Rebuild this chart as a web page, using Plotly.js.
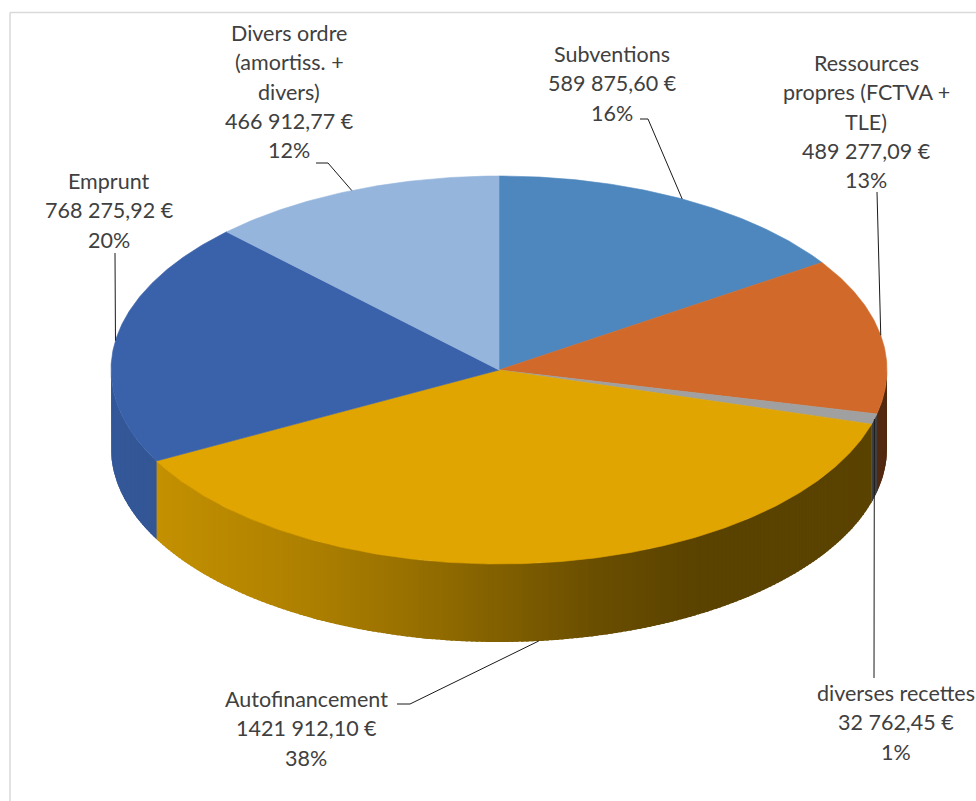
<!DOCTYPE html>
<html><head><meta charset="utf-8">
<script src="https://cdn.plot.ly/plotly-3.0.1.min.js"></script>
<style>html,body{margin:0;padding:0;background:#fff;overflow:hidden}#chart{width:976px;height:801px}</style>
</head><body><div id="chart"></div>
<script>
// ---- data ----
const categories = ['Subventions', 'Ressources\npropres (FCTVA +\nTLE)', 'diverses recettes', 'Autofinancement', 'Emprunt', 'Divers ordre\n(amortiss. +\ndivers)'];
const amounts = [589875.60, 489277.09, 32762.45, 1421912.10, 768275.92, 466912.77];
const sliceColors = ['#4E86BE', '#D0692A', '#A0A0A0', '#E0A500', '#3A62AA', '#95B5DD'];

// ---- layout constants (pixel-like axis units) ----
const W = 976, H = 801;
const CX = 499, CY = 370, RX = 388, RY = 194, DEPTH = 78;
const LINE_H = 29.3;
const labelPos = [[612, 54], [866, 63], [896, 693], [306, 699], [109, 181], [289, 33]];
const leaderPts = [[[640, 119], [648, 119]], [[877, 192]], [[874, 678]], [[397, 704], [410, 704]], [[115, 253]], [[316, 163], [328, 163]]];
const leaderEnd = ['top', 'top', 'top', 'bottom', 'top', 'top'];
const textColor = '#404040';
const FONT = 'Lato, "Open Sans", sans-serif';
const FONT_SIZE = 21.5;

function fmtAmount(v) {
  const s = v.toFixed(2).split('.');
  let ip = s[0];
  if (ip.length > 3) ip = ip.slice(0, ip.length - 3) + ' ' + ip.slice(-3);
  return ip + ',' + s[1] + ' €';
}
function pt(thDeg, dy) {
  const t = thDeg * Math.PI / 180;
  return [CX + RX * Math.sin(t), CY - RY * Math.cos(t) + (dy || 0)];
}
function hexToRgb(h) { return [1, 3, 5].map(i => parseInt(h.substr(i, 2), 16)); }
const shadeStops = [[111, 0.90], [155, 0.875], [300, 0.78], [400, 0.69], [600, 0.47], [700, 0.40], [976, 0.40]];
function shadeFactor(x) {
  if (x <= shadeStops[0][0]) return shadeStops[0][1];
  for (let i = 1; i < shadeStops.length; i++) {
    const [x1, f1] = shadeStops[i], [x0, f0] = shadeStops[i - 1];
    if (x <= x1) return f0 + (f1 - f0) * (x - x0) / (x1 - x0);
  }
  return shadeStops[shadeStops.length - 1][1];
}
function shade(hex, f) {
  const c = hexToRgb(hex).map(v => Math.round(v * f));
  return 'rgb(' + c.join(',') + ')';
}
function sidePoly(t0, t1) {
  const xs = [], ys = [], m = 8;
  for (let j = 0; j <= m; j++) { const p = pt(t0 + (t1 - t0) * j / m, 0); xs.push(p[0]); ys.push(p[1]); }
  for (let j = m; j >= 0; j--) { const p = pt(t0 + (t1 - t0) * j / m, DEPTH); xs.push(p[0]); ys.push(p[1]); }
  return [xs, ys];
}

const total = amounts.reduce((a, b) => a + b, 0);
const starts = [], ends = [];
let acc = 0;
amounts.forEach(v => { starts.push(acc / total * 360); acc += v; ends.push(acc / total * 360); });

const traces = [];
// side faces (front half 90..270 deg), split into shaded strips
amounts.forEach((v, i) => {
  const a = Math.max(starts[i], 90), b = Math.min(ends[i], 270);
  if (b <= a) return;
  // base layer
  const [bx, by] = sidePoly(a, b);
  const baseCol = shade(sliceColors[i], shadeFactor(pt((a + b) / 2)[0]));
  traces.push({ type: 'scatter', mode: 'lines', x: bx, y: by, fill: 'toself', fillcolor: baseCol,
    line: { width: 0 }, hoverinfo: 'skip', showlegend: false });
  const n = Math.max(1, Math.ceil((b - a) / 0.75));
  for (let k = 0; k < n; k++) {
    const t0 = a + (b - a) * k / n, t1 = Math.min(b, a + (b - a) * (k + 1) / n + 0.4);
    const [xs, ys] = sidePoly(t0, t1);
    const col = shade(sliceColors[i], shadeFactor(pt(a + (b - a) * (k + 0.5) / n)[0]));
    traces.push({ type: 'scatter', mode: 'lines', x: xs, y: ys, fill: 'toself', fillcolor: col,
      line: { width: 0 }, hoverinfo: 'skip', showlegend: false });
  }
});
// top faces
amounts.forEach((v, i) => {
  const xs = [CX], ys = [CY];
  const n = Math.max(2, Math.ceil((ends[i] - starts[i]) / 0.5));
  for (let j = 0; j <= n; j++) { const p = pt(starts[i] + (ends[i] - starts[i]) * j / n); xs.push(p[0]); ys.push(p[1]); }
  xs.push(CX); ys.push(CY);
  traces.push({ type: 'scatter', mode: 'lines', x: xs, y: ys, fill: 'toself', fillcolor: sliceColors[i],
    line: { color: sliceColors[i], width: 0.6 }, hoverinfo: 'skip', showlegend: false, name: categories[i].replace(/\n/g, ' ') });
});
// leader lines
amounts.forEach((v, i) => {
  const mid = (starts[i] + ends[i]) / 2;
  const e = pt(mid, leaderEnd[i] === 'bottom' ? DEPTH : 0);
  const pts = leaderPts[i].concat([e]);
  traces.push({ type: 'scatter', mode: 'lines', x: pts.map(p => p[0]), y: pts.map(p => p[1]),
    line: { color: '#1a1a1a', width: 1 }, hoverinfo: 'skip', showlegend: false });
});

// labels
const annotations = [];
amounts.forEach((v, i) => {
  const lines = categories[i].split('\n').concat([fmtAmount(v), Math.round(v / total * 100) + '%']);
  lines.forEach((s, j) => {
    annotations.push({ x: labelPos[i][0], y: labelPos[i][1] + j * LINE_H, xref: 'x', yref: 'y', text: s,
      showarrow: false, xanchor: 'center', yanchor: 'middle', font: { family: FONT, size: FONT_SIZE, color: textColor } });
  });
});

const layout = {
  width: W, height: H, margin: { l: 0, r: 0, t: 0, b: 0 },
  paper_bgcolor: '#fff', plot_bgcolor: '#fff',
  xaxis: { range: [0, W], visible: false, fixedrange: true },
  yaxis: { range: [H, 0], visible: false, fixedrange: true },
  showlegend: false, hovermode: false,
  annotations: annotations,
  shapes: [
    { type: 'line', xref: 'x', yref: 'y', x0: 10, y0: 12.5, x1: W, y1: 12.5, line: { color: '#D9D9D9', width: 1.5 }, layer: 'below' },
    { type: 'line', xref: 'x', yref: 'y', x0: 10, y0: 12.5, x1: 10, y1: H, line: { color: '#D9D9D9', width: 1.5 }, layer: 'below' }
  ]
};
Plotly.newPlot('chart', traces, layout, { displayModeBar: false, staticPlot: true });
</script></body></html>
